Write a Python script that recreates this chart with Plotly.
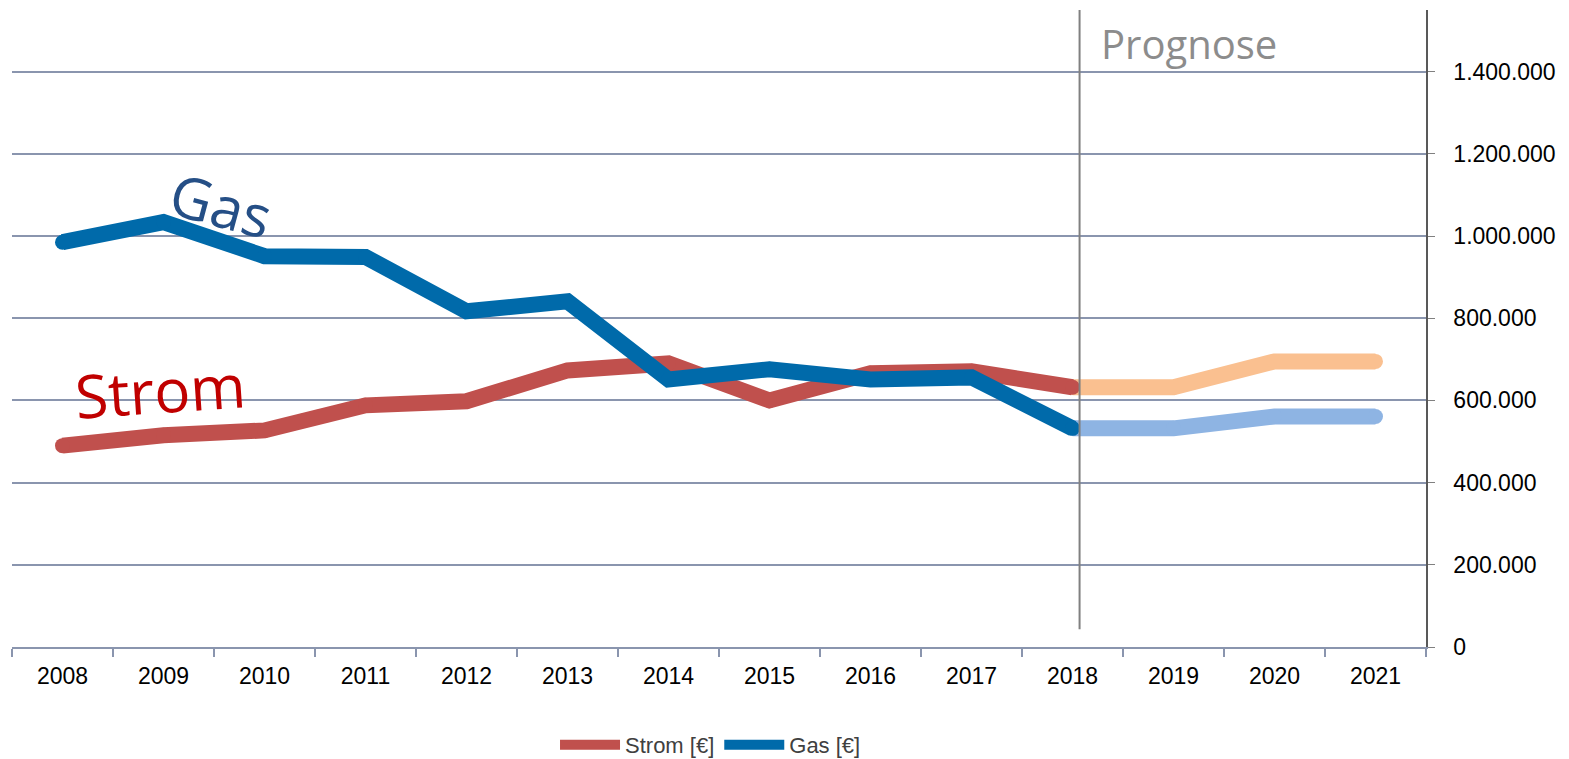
import plotly.graph_objects as go

years = [str(y) for y in range(2008, 2022)]
hist_years = years[:11]          # 2008-2018
fc_years = years[10:]            # 2018-2021

strom_hist = [490000, 515000, 527000, 588000, 598000, 673000, 690000, 600000, 666000, 671000, 632000]
gas_hist = [985000, 1034000, 951000, 949000, 817000, 841000, 651000, 676000, 651000, 656000, 532000]
strom_fc = [632000, 632000, 695000, 695000]
gas_fc = [532000, 532000, 561000, 561000]

yticks = [0, 200000, 400000, 600000, 800000, 1000000, 1200000, 1400000]

RED = "#C0504D"
BLUE = "#006AAA"
ORANGE_L = "#FAC090"
BLUE_L = "#8EB4E3"
LW = 16

fig = go.Figure()


def add_series(xs, ys, color, name=None, legend=False):
    fig.add_trace(go.Scatter(x=xs, y=ys, mode="lines", name=name, showlegend=legend,
                             line=dict(color=color, width=LW), hoverinfo="skip" if not legend else None))
    fig.add_trace(go.Scatter(x=xs, y=ys, mode="markers", showlegend=False,
                             marker=dict(color=color, size=LW - 1, line=dict(width=0)),
                             hoverinfo="skip"))


add_series(fc_years, strom_fc, ORANGE_L)
add_series(fc_years, gas_fc, BLUE_L)
add_series(hist_years, strom_hist, RED, "Strom [€]", True)
add_series(hist_years, gas_hist, BLUE, "Gas [€]", True)

GRID = "#8A95AE"
# page body adds an 8px offset; margins compensate so the plot area sits at x 12-1426, y 10-648
fig.update_layout(
    width=1569, height=759,
    margin=dict(l=4, r=151, t=2, b=119),
    paper_bgcolor="white", plot_bgcolor="white",
    separators=",.",
    font=dict(family="Liberation Sans, Arial", size=22, color="black"),
    xaxis=dict(type="category", categoryorder="array", categoryarray=years,
               range=[-0.5, 13.5], tickson="boundaries", ticks="outside", ticklen=8,
               tickcolor=GRID, tickwidth=2, showline=True, linecolor=GRID, linewidth=2,
               showgrid=False, zeroline=False, tickfont=dict(size=23), ticklabelstandoff=7),
    yaxis=dict(side="right", range=[0, 1550000], tickvals=yticks, tickformat=",d",
               showgrid=True, gridcolor=GRID, gridwidth=1.5, zeroline=False,
               showline=True, linecolor="#595959", linewidth=1.5,
               ticks="outside", ticklen=7, tickcolor="#808080", tickfont=dict(size=23),
               ticklabelstandoff=14),
    legend=dict(orientation="h", x=0.494, xanchor="center", y=-0.152, yanchor="middle",
                font=dict(size=22, color="#404040"), itemwidth=60, tracegroupgap=0),
    showlegend=True,
)

fig.add_shape(type="line", xref="x", yref="paper", x0=10.07, x1=10.07, y0=0.028, y1=1,
              line=dict(color="#808080", width=2))

fig.add_annotation(xref="paper", yref="paper", x=0.769, y=0.947, xanchor="left", yanchor="middle",
                   text="Prognose", showarrow=False,
                   font=dict(family="Open Sans", size=40, color="#8C8C8C"))
fig.add_annotation(xref="paper", yref="paper", x=0.148, y=0.694, xanchor="center", yanchor="middle",
                   text="Gas", showarrow=False, textangle=15,
                   font=dict(family="Open Sans", size=58, color="#254F86"))
fig.add_annotation(xref="paper", yref="paper", x=0.105, y=0.404, xanchor="center", yanchor="middle",
                   text="Strom", showarrow=False, textangle=-4,
                   font=dict(family="Open Sans", size=60, color="#C00000"))

fig.write_html("out.html")
